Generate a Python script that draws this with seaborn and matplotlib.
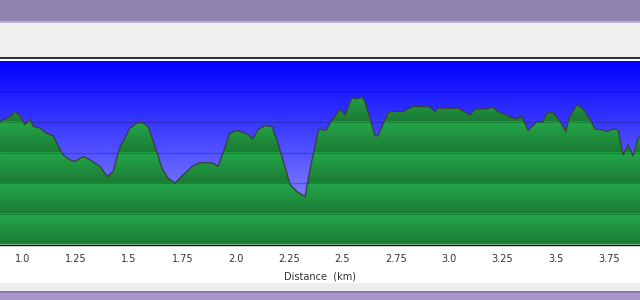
import numpy as np
import matplotlib
matplotlib.use("Agg")
import matplotlib.pyplot as plt
from matplotlib.patches import Rectangle
import seaborn as sns

# Elevation profile (distance in km, elevation in arbitrary metres)
distance_km = [0.895, 0.918, 0.942, 0.965, 0.989, 1.012, 1.036, 1.050, 1.083, 1.106,
               1.143, 1.190, 1.223, 1.247, 1.284, 1.317, 1.364, 1.397, 1.425, 1.458,
               1.481, 1.504, 1.537, 1.561, 1.589, 1.622, 1.654, 1.683, 1.715, 1.753,
               1.795, 1.833, 1.894, 1.917, 1.940, 1.973, 2.006, 2.053, 2.081, 2.104,
               2.137, 2.170, 2.198, 2.255, 2.287, 2.325, 2.348, 2.386, 2.395, 2.423,
               2.442, 2.489, 2.512, 2.545, 2.569, 2.592, 2.606, 2.653, 2.667, 2.714,
               2.737, 2.784, 2.831, 2.911, 2.934, 2.948, 3.019, 3.042, 3.098, 3.122,
               3.178, 3.202, 3.239, 3.276, 3.309, 3.342, 3.370, 3.412, 3.436, 3.459,
               3.487, 3.520, 3.548, 3.562, 3.600, 3.628, 3.661, 3.684, 3.717, 3.741,
               3.769, 3.792, 3.816, 3.839, 3.862, 3.886, 3.895]
elevation_m = [180.3, 181.8, 183.5, 186.8, 184.0, 178.1, 181.8, 177.0, 175.9, 173.1,
               170.9, 158.5, 155.2, 154.1, 157.4, 155.2, 150.9, 144.3, 147.6, 163.9,
               169.6, 175.9, 179.2, 179.6, 177.0, 163.9, 149.8, 143.3, 140.0, 145.4,
               150.9, 153.5, 153.1, 150.9, 159.6, 172.7, 174.4, 172.2, 168.8, 174.8,
               177.6, 177.0, 166.1, 138.9, 134.5, 131.2, 148.7, 173.7, 175.3, 174.4,
               179.2, 188.4, 184.6, 195.6, 194.9, 196.2, 193.3, 170.9, 170.9, 186.1,
               186.8, 186.6, 190.1, 189.7, 186.4, 189.0, 188.8, 189.0, 184.6, 188.4,
               188.4, 189.7, 186.1, 184.0, 181.8, 183.5, 174.4, 180.3, 179.6, 185.8,
               186.1, 180.3, 173.7, 182.5, 191.2, 188.4, 181.4, 175.3, 174.8, 173.7,
               175.3, 174.8, 158.5, 165.0, 157.8, 169.4, 170.9]
x_ticks = [1.0, 1.25, 1.5, 1.75, 2.0, 2.25, 2.5, 2.75, 3.0, 3.25, 3.5, 3.75]
x_tick_labels = ["1.0", "1.25", "1.5", "1.75", "2.0", "2.25", "2.5", "2.75", "3.0", "3.25", "3.5", "3.75"]
y_grid = [100, 120, 140, 160, 180, 200, 220]

sns.set_style("white")
plt.rcParams["font.family"] = ["DejaVu Sans"]

fig = plt.figure(figsize=(6.4, 3.0), dpi=100)
fig.patch.set_facecolor("white")

H = 300.0
def band(y_top, y_bot, color, z=0):
    fig.patches.append(Rectangle((0, 1 - y_bot / H), 1, (y_bot - y_top) / H,
                                 transform=fig.transFigure, facecolor=color,
                                 edgecolor="none", zorder=z))

# window chrome
band(0, 21, "#8f84ad")
band(21, 23, "#b9b0d6")
band(23, 57, "#efefef")
band(57, 58.5, "#333333")
band(283, 291, "#eeeeee")
band(291, 293, "#8a78b0")
band(293, 300, "#a898c8")

ax = fig.add_axes([0.0, 1 - 244.5 / H, 1.0, (244.5 - 60.5) / H])
x0, x1 = 0.895, 3.895
y0, y1 = 100, 220
ax.set_xlim(x0, x1)
ax.set_ylim(y0, y1)

# blue gradient background
n = 256
t = np.linspace(0, 1, n)[:, None]
top = np.array([0, 0, 255]) / 255
bot = np.array([165, 165, 255]) / 255
grad = (top * (1 - t) + bot * t).reshape(n, 1, 3)
ax.imshow(grad, extent=[x0, x1, y0, y1], aspect="auto", origin="upper", zorder=0)

# terrain fill with banded green shading
poly = ax.fill_between(distance_km, elevation_m, y0, color="#22a34a", lw=0, zorder=1)
yy = np.linspace(y1, y0, 600)
frac = ((y1 - yy) % 20) / 20.0  # 0 just below a grid line, ->1 just above next
light = np.array([36, 168, 74]) / 255
dark = np.array([27, 122, 52]) / 255
green = (light * (1 - frac[:, None]) + dark * frac[:, None]).reshape(-1, 1, 3)
im = ax.imshow(green, extent=[x0, x1, y0, y1], aspect="auto", origin="upper", zorder=2)
im.set_clip_path(poly.get_paths()[0], transform=ax.transData)

# grid lines
for g in y_grid[1:-1]:
    ax.axhline(g, color="black", alpha=0.22, lw=0.8, zorder=3)

# profile outline
sns.lineplot(x=distance_km, y=elevation_m, ax=ax, color="#3c3c3c", lw=0.9,
             sort=False, zorder=4, estimator=None)

ax.set_xticks(x_ticks)
ax.set_xticklabels(x_tick_labels)
ax.set_yticks([])
ax.tick_params(axis="x", direction="out", length=4, width=0.8, colors="#222222",
               labelsize=7, pad=3)
for lab in ax.get_xticklabels():
    lab.set_color("#333333")
for s in ["top", "left", "right"]:
    ax.spines[s].set_visible(False)
ax.spines["bottom"].set_color("#111111")
ax.spines["bottom"].set_linewidth(1.0)
ax.set_xlabel("Distance  (km)", fontsize=7, color="#333333", labelpad=5)
ax.set_ylabel("")

fig.savefig("out.png", dpi=100)
